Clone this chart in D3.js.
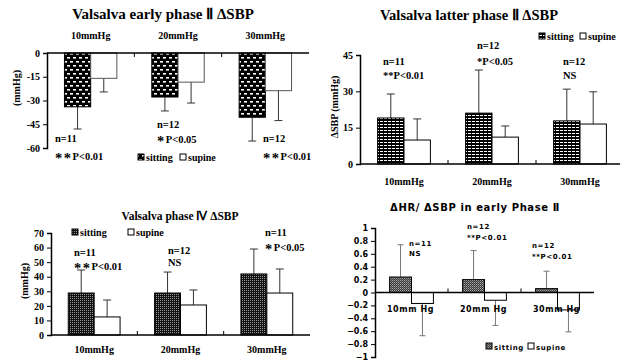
<!DOCTYPE html>
<html>
<head>
<meta charset="utf-8">
<script src="https://cdn.jsdelivr.net/npm/d3@7"></script>
<style>
  body { margin: 0; background: #fff; }
  svg { display: block; }
  .serif text { font-family: "Liberation Serif", "Times New Roman", serif; font-weight: bold; }
  .gothic text { font-family: "DejaVu Sans", "Noto Sans CJK JP", sans-serif; font-weight: bold; }
</style>
</head>
<body>
<svg id="chart" width="620" height="362"></svg>
<script>
const categories = ['10mmHg', '20mmHg', '30mmHg'];
const groups = ['sitting', 'supine'];

// early phase II delta SBP (mmHg)
const earlySitting = [-34, -27.8, -40.6];
const earlySittingSD = [14, 8.8, 15];
const earlySupine = [-16, -18.4, -23.8];
const earlySupineSD = [8.6, 13.2, 18.9];
const earlyTicks = [0, -15, -30, -45, -60];
const earlyNotes = [['n=11', '＊＊P<0.01'], ['n=12', '＊P<0.05'], ['n=12', '＊＊P<0.01']];

// latter phase II delta SBP
const latterSitting = [19, 21, 17.8];
const latterSittingSD = [9.9, 17.8, 13.1];
const latterSupine = [9.9, 11.1, 16.5];
const latterSupineSD = [8.7, 4.6, 13.3];
const latterTicks = [0, 15, 30, 45];
const latterNotes = [['n=11', '**P<0.01'], ['n=12', '*P<0.05'], ['n=12', 'NS']];

// phase IV delta SBP
const p4Sitting = [28.8, 28.8, 41.9];
const p4SittingSD = [15.8, 14.4, 17.1];
const p4Supine = [12.4, 20.6, 28.8];
const p4SupineSD = [11.6, 10.3, 16.5];
const p4Ticks = [0, 10, 20, 30, 40, 50, 60, 70];
const p4Notes = [['n=11', '＊＊P<0.01'], ['n=12', 'NS'], ['n=11', '＊P<0.05']];

// delta HR / delta SBP in early phase II
const hrSitting = [0.24, 0.2, 0.06];
const hrSittingSD = [0.5, 0.45, 0.27];
const hrSupine = [-0.17, -0.12, -0.27];
const hrSupineSD = [0.5, 0.39, 0.34];
const hrTicks = [1, 0.8, 0.6, 0.4, 0.2, 0, -0.2, -0.4, -0.6, -0.8, -1];
const hrCatLabels = ['10mm Hg', '20mm Hg', '30mm Hg'];
const hrNotes = [['n=11', 'NS'], ['n=12', '**P<0.01'], ['n=12', '**P<0.01']];

const svg = d3.select('#chart');
const defs = svg.append('defs');

// fill patterns for the sitting bars
function addPattern(id, w, h, bg, dots) {
  const p = defs.append('pattern').attr('id', id)
    .attr('patternUnits', 'userSpaceOnUse').attr('width', w).attr('height', h);
  p.append('rect').attr('width', w).attr('height', h).attr('fill', bg);
  dots.forEach(d => p.append('rect').attr('x', d[0]).attr('y', d[1])
    .attr('width', d[2]).attr('height', d[3]).attr('fill', d[4]));
}
addPattern('pat1', 6, 8, '#000', [[1, 1, 3, 1.6, '#fff'], [4, 5, 3, 1.6, '#fff'], [-2, 5, 3, 1.6, '#fff']]);
addPattern('pat2', 4, 3, '#000', [[0, 1, 3, 1, '#fff']]);
addPattern('pat3', 2, 2, '#111', [[0, 0, 1, 1, '#999']]);
addPattern('pat4', 2, 2, '#3a3a3a', [[0, 0, 1, 1, '#aaa'], [1, 1, 1, 1, '#777']]);

// note text; full-width stars are drawn as large asterisks
function noteText(sel, t, size) {
  const m = t.match(/^(＊+)(.*)$/);
  if (!m) { sel.text(t); return; }
  sel.append('tspan').attr('font-size', size + 4).attr('letter-spacing', 1.5).attr('dy', 3)
    .text('*'.repeat(m[1].length));
  sel.append('tspan').attr('dy', -3).text(m[2]);
}

function drawPanel(o) {
  const g = svg.append('g').attr('class', o.cls);

  const x = d3.scaleBand().domain(categories).range(o.xRange);
  const xs = d3.scaleBand().domain(groups)
    .range([x.bandwidth() * 0.2, x.bandwidth() * 0.8]);
  const y = d3.scaleLinear().domain(o.yDomain).range(o.yRange);

  const series = [
    { key: 'sitting', vals: o.sitting, sd: o.sittingSD, fill: 'url(#' + o.pattern + ')', stroke: '#000' },
    { key: 'supine', vals: o.supine, sd: o.supineSD, fill: '#fff', stroke: o.supineStroke }
  ];

  series.forEach(s => {
    const cx = (d, i) => x(categories[i]) + xs(s.key) + xs.bandwidth() / 2;
    const tip = (d, i) => y(d + Math.sign(d) * s.sd[i]);

    g.selectAll(null).data(s.vals).enter().append('line')
      .attr('x1', cx).attr('x2', cx)
      .attr('y1', d => y(d)).attr('y2', tip)
      .attr('stroke', o.errColor).attr('stroke-width', 1);
    g.selectAll(null).data(s.vals).enter().append('line')
      .attr('x1', (d, i) => cx(d, i) - o.cap).attr('x2', (d, i) => cx(d, i) + o.cap)
      .attr('y1', tip).attr('y2', tip)
      .attr('stroke', o.errColor).attr('stroke-width', 1);

    g.selectAll(null).data(s.vals).enter().append('rect')
      .attr('x', (d, i) => x(categories[i]) + xs(s.key))
      .attr('width', xs.bandwidth())
      .attr('y', d => y(Math.max(0, d)))
      .attr('height', d => Math.abs(y(d) - y(0)))
      .attr('fill', s.fill)
      .attr('stroke', s.stroke).attr('stroke-width', 1);
  });

  // y axis
  const ya = g.append('g')
    .attr('transform', 'translate(' + o.xRange[0] + ',0)')
    .call(d3.axisLeft(y).tickValues(o.yTicks).tickSize(4).tickPadding(3).tickFormat(o.fmt));
  ya.select('.domain').attr('stroke', '#000').attr('stroke-width', 1.5);
  ya.selectAll('.tick text').attr('font-size', o.tickFont).attr('fill', '#000');

  // zero line with category separators
  g.append('line')
    .attr('x1', o.xRange[0]).attr('x2', o.xRange[1])
    .attr('y1', y(0)).attr('y2', y(0))
    .attr('stroke', '#000').attr('stroke-width', 1.5);
  g.selectAll(null).data(categories.slice(1)).enter().append('line')
    .attr('x1', d => x(d)).attr('x2', d => x(d))
    .attr('y1', y(0)).attr('y2', y(0) + o.sepDir * 4)
    .attr('stroke', '#000');

  // category labels
  g.selectAll(null).data(o.catLabels || categories).enter().append('text')
    .attr('x', (d, i) => x(categories[i]) + x.bandwidth() / 2 + (o.catDx || 0))
    .attr('y', o.catY)
    .attr('text-anchor', 'middle')
    .attr('font-size', o.catFont)
    .attr('letter-spacing', o.spacing || 0)
    .text(d => d);

  // title
  g.append('text').attr('x', o.titleX).attr('y', o.titleY)
    .attr('text-anchor', 'middle').attr('font-size', o.titleFont)
    .attr('letter-spacing', o.spacing || 0)
    .text(o.title);

  // y label
  if (o.yLabel) {
    g.append('text')
      .attr('transform', 'translate(' + o.yLabelX + ',' + o.yLabelY + ') rotate(-90)')
      .attr('text-anchor', 'middle').attr('font-size', o.labelFont)
      .text(o.yLabel);
  }

  // n / p-value notes
  o.notes.forEach((pair, i) => {
    pair.forEach((t, j) => {
      const tx = g.append('text')
        .attr('x', o.notePos[i][0]).attr('y', o.notePos[i][1] + j * o.noteGap[i])
        .attr('font-size', o.noteFont)
        .attr('letter-spacing', o.spacing || 0);
      noteText(tx, t, o.noteFont);
    });
  });

  // legend
  const lg = g.append('g').attr('transform', 'translate(' + o.legend[0] + ',' + o.legend[1] + ')');
  [['url(#' + o.pattern + ')', 'sitting'], ['#fff', 'supine']].forEach((d, i) => {
    const lx = o.legendGap * i;
    lg.append('rect').attr('x', lx).attr('y', -o.legendBox / 2 - 1)
      .attr('width', o.legendBox).attr('height', o.legendBox)
      .attr('fill', d[0]).attr('stroke', '#000').attr('stroke-width', 1);
    lg.append('text').attr('x', lx + o.legendBox + 2).attr('y', 3)
      .attr('font-size', o.legendFont).attr('letter-spacing', o.spacing || 0)
      .text(d[1]);
  });
}

const plain = d => String(d);

drawPanel({
  cls: 'serif', title: 'Valsalva early phase Ⅱ ΔSBP', titleX: 163, titleY: 19, titleFont: 15,
  xRange: [47, 309], yDomain: [-60, 0], yRange: [148, 53], yTicks: earlyTicks, fmt: plain,
  sitting: earlySitting, sittingSD: earlySittingSD, supine: earlySupine, supineSD: earlySupineSD,
  pattern: 'pat1', supineStroke: '#555', errColor: '#333', cap: 4, sepDir: 1,
  tickFont: 10, catFont: 10, catY: 39,
  yLabel: '(mmHg)', yLabelX: 20, yLabelY: 88, labelFont: 10,
  notes: earlyNotes, notePos: [[55, 142], [157, 128], [263, 142]], noteGap: [18, 15, 18], noteFont: 10.5,
  legend: [138, 158], legendBox: 6, legendGap: 42, legendFont: 10
});

drawPanel({
  cls: 'serif', title: 'Valsalva latter phase Ⅱ ΔSBP', titleX: 469, titleY: 20, titleFont: 14.5,
  xRange: [360, 624], yDomain: [0, 45], yRange: [164, 55], yTicks: latterTicks, fmt: plain,
  sitting: latterSitting, sittingSD: latterSittingSD, supine: latterSupine, supineSD: latterSupineSD,
  pattern: 'pat2', supineStroke: '#000', errColor: '#333', cap: 4, sepDir: -1,
  tickFont: 10, catFont: 10, catY: 185,
  yLabel: 'ΔSBP (mmHg)', yLabelX: 338, yLabelY: 107, labelFont: 10,
  notes: latterNotes, notePos: [[383, 65], [477, 49], [563, 65]], noteGap: [14, 16, 14], noteFont: 10.5,
  legend: [539, 37], legendBox: 6, legendGap: 41, legendFont: 10
});

drawPanel({
  cls: 'serif', title: 'Valsalva phase Ⅳ ΔSBP', titleX: 180, titleY: 220, titleFont: 11.5,
  xRange: [51, 310], yDomain: [0, 70], yRange: [335, 233], yTicks: p4Ticks, fmt: plain,
  sitting: p4Sitting, sittingSD: p4SittingSD, supine: p4Supine, supineSD: p4SupineSD,
  pattern: 'pat3', supineStroke: '#000', errColor: '#333', cap: 4, sepDir: -1,
  tickFont: 10, catFont: 10, catY: 353,
  yLabel: '(mmHg)', yLabelX: 28, yLabelY: 281, labelFont: 10,
  notes: p4Notes, notePos: [[74, 256], [168, 254], [265, 236]], noteGap: [14, 12, 15], noteFont: 10.5,
  legend: [72, 233], legendBox: 6, legendGap: 56, legendFont: 10
});

drawPanel({
  cls: 'gothic', title: 'ΔHR/ ΔSBP  in early Phase Ⅱ', titleX: 475, titleY: 211, titleFont: 10,
  xRange: [375, 594], yDomain: [-1, 1], yRange: [357, 228], yTicks: hrTicks, fmt: d3.format(''),
  sitting: hrSitting, sittingSD: hrSittingSD, supine: hrSupine, supineSD: hrSupineSD,
  pattern: 'pat4', supineStroke: '#000', errColor: '#777', cap: 3, sepDir: -1,
  tickFont: 8, catFont: 8, catY: 312, catLabels: hrCatLabels, catDx: -1, spacing: 0.6,
  notes: hrNotes, notePos: [[409, 246], [467, 229], [532, 248]], noteGap: [10, 11, 11], noteFont: 7,
  legend: [486, 347], legendBox: 6, legendGap: 42, legendFont: 7
});
</script>
</body>
</html>
